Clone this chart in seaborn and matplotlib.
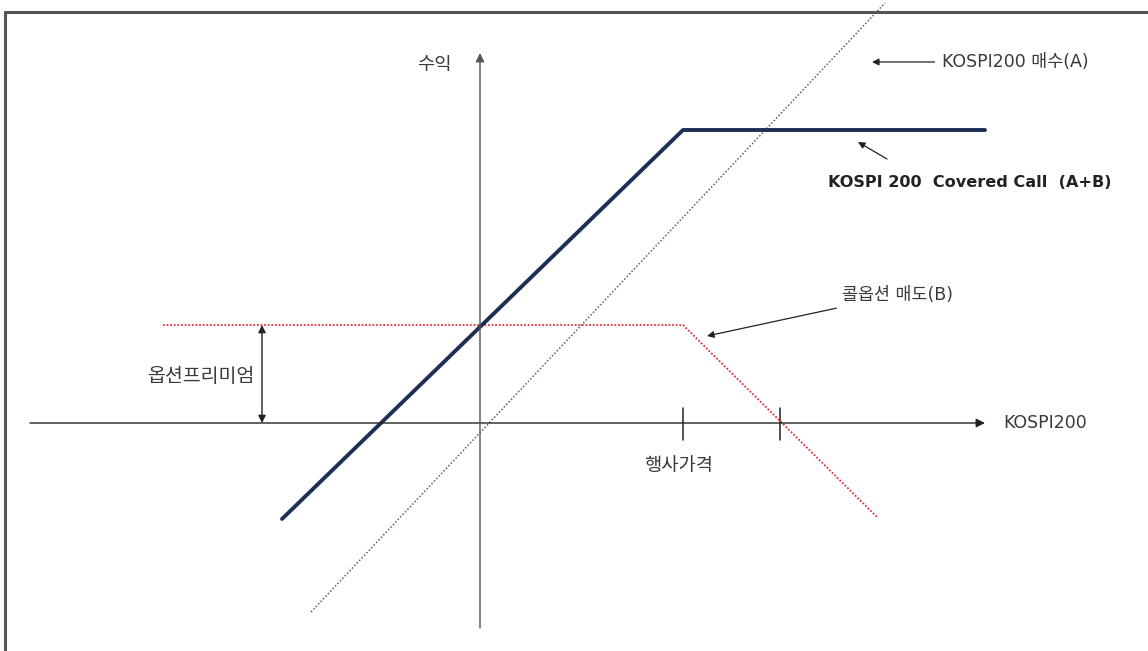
import numpy as np
import pandas as pd
import matplotlib
matplotlib.use("Agg")
import matplotlib.pyplot as plt
from matplotlib.lines import Line2D
import seaborn as sns

# payoff lines (x = KOSPI200 level, y = profit), origin at the axis cross
cc_x = [-19.8, 20.3, 50.5]          # KOSPI 200 Covered Call (A+B)
cc_y = [-9.6, 29.3, 29.3]
stock_x = [-16.9, 40.5]             # KOSPI200 buy (A)
stock_y = [-18.9, 42.0]
call_x = [-31.7, 20.3, 39.8]        # short call (B)
call_y = [9.8, 9.8, -9.5]

strike = 20.3
breakeven = 30.0
premium = 9.8

sns.set_theme(style="white")
plt.rcParams['font.family'] = ['DejaVu Sans', 'Noto Sans CJK KR']
KR = ['Noto Sans CJK KR', 'DejaVu Sans']

fig = plt.figure(figsize=(11.48, 6.51), dpi=100)
ax = fig.add_axes([0, 0, 1, 1])
ax.set_xlim(-48, 66.8)
ax.set_ylim(-22.8, 42.3)
ax.axis('off')

# frame of the original picture (only top / left visible)
fig.add_artist(Line2D([5 / 1148, 5 / 1148], [0, 1 - 12 / 651], color='#555555', lw=2.2))
fig.add_artist(Line2D([5 / 1148, 1], [1 - 12 / 651, 1 - 12 / 651], color='#555555', lw=2.2))

axis_col = '#222222'
# x axis
ax.annotate('', xy=(50.5, 0), xytext=(-45, 0),
            arrowprops=dict(arrowstyle='-|>', color=axis_col, lw=1.0,
                            mutation_scale=13, shrinkA=0, shrinkB=0))
# y axis
ax.annotate('', xy=(0, 37), xytext=(0, -20.5),
            arrowprops=dict(arrowstyle='-|>', color='#555555', lw=1.0,
                            mutation_scale=13, shrinkA=0, shrinkB=0))

# strike / break-even ticks
for t in [strike, breakeven]:
    ax.plot([t, t], [-1.7, 1.5], color=axis_col, lw=1.1)

df_call = pd.DataFrame({'x': call_x, 'y': call_y})
df_stock = pd.DataFrame({'x': stock_x, 'y': stock_y})
df_cc = pd.DataFrame({'x': cc_x, 'y': cc_y})

sns.lineplot(data=df_call, x='x', y='y', ax=ax, sort=False, estimator=None,
             color='#e0303a', lw=1.3, linestyle=(0, (1, 1)))
sns.lineplot(data=df_stock, x='x', y='y', ax=ax, sort=False, estimator=None,
             color='#6d5a62', lw=1.1, linestyle=(0, (1, 1.3)))
sns.lineplot(data=df_cc, x='x', y='y', ax=ax, sort=False, estimator=None,
             color='#1e2f55', lw=2.8)

# premium double arrow
ax.annotate('', xy=(-21.8, premium), xytext=(-21.8, 0),
            arrowprops=dict(arrowstyle='<|-|>', color=axis_col, lw=1.0,
                            mutation_scale=11, shrinkA=0, shrinkB=0))

txt = '#3a3a3a'
ax.text(-22.6, 4.6, '옵션프리미엄', ha='right', va='center', fontsize=14,
        color=txt, family=KR)
ax.text(-2.8, 35.8, '수익', ha='right', va='center', fontsize=13.5,
        color=txt, family=KR)
ax.text(52.3, 0, 'KOSPI200', ha='left', va='center', fontsize=12.5, color=txt)
ax.text(strike - 0.4, -4.2, '행사가격', ha='center', va='center', fontsize=13.5,
        color=txt, family=KR)

# labels with arrows
ax.annotate('KOSPI200 매수(A)', xy=(39.2, 36.1), xytext=(46.2, 36.1),
            ha='left', va='center', fontsize=12.5, color=txt,
            arrowprops=dict(arrowstyle='-|>', color=axis_col, lw=0.9,
                            mutation_scale=10, shrinkA=3, shrinkB=0))
ax.annotate('', xy=(37.8, 28.1), xytext=(40.7, 26.4),
            arrowprops=dict(arrowstyle='-|>', color=axis_col, lw=0.9,
                            mutation_scale=10, shrinkA=0, shrinkB=0))
ax.text(34.8, 24.0, 'KOSPI 200  Covered Call  (A+B)', ha='left', va='center',
        fontsize=11.6, color='#222222', fontweight='bold')
ax.annotate('콜옵션 매도(B)', xy=(22.7, 8.7), xytext=(36.2, 12.8),
            ha='left', va='center', fontsize=12.5, color=txt,
            arrowprops=dict(arrowstyle='-|>', color=axis_col, lw=0.9,
                            mutation_scale=10, shrinkA=3, shrinkB=0))

fig.savefig('out.png', dpi=100, facecolor='white')
